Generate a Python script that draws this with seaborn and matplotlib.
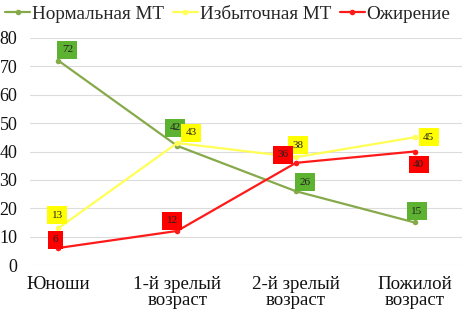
import matplotlib
matplotlib.use("Agg")
import matplotlib.pyplot as plt
import seaborn as sns
import pandas as pd

categories = ["Юноши", "1-й зрелый\nвозраст", "2-й зрелый\nвозраст", "Пожилой\nвозраст"]
series_names = ["Нормальная МТ", "Избыточная МТ", "Ожирение"]
normal = [72, 42, 26, 15]
excess = [13, 43, 38, 45]
obesity = [6, 12, 36, 40]
yticks = [0, 10, 20, 30, 40, 50, 60, 70, 80]

line_colors = ["#86a94a", "#ffff55", "#ff1a1a"]
box_colors = ["#5db232", "#ffff00", "#ff0000"]

# label offsets in pixels (style only)
offsets = {
    0: [(9, 11), (-2, 18), (9, 9), (2, 11)],
    1: [(-1, 13), (14, 10), (2, 12), (14, 0)],
    2: [(-3, 8), (-5, 10), (-13, 8), (4, -13)],
}

sns.set_theme(style="white")
plt.rcParams["font.family"] = "serif"
plt.rcParams["font.serif"] = ["Liberation Serif", "DejaVu Serif"]

df = pd.DataFrame({
    "cat": categories * 3,
    "value": normal + excess + obesity,
    "series": [s for s in series_names for _ in categories],
})

fig = plt.figure(figsize=(4.62, 3.11), dpi=100)
ax = fig.add_axes([30 / 462, 46 / 311, 432 / 462, 227 / 311])

sns.lineplot(data=df, x="cat", y="value", hue="series", palette=line_colors,
             marker="o", markersize=4, markeredgewidth=0, linewidth=1.6,
             sort=False, ax=ax, legend=True)

for si, vals in enumerate([normal, excess, obesity]):
    for ci, v in enumerate(vals):
        dx, dy = offsets[si][ci]
        ax.annotate(str(v), xy=(ci, v), xytext=(dx, dy), textcoords="offset pixels",
                    ha="center", va="center", fontsize=8, color="#222222",
                    bbox=dict(boxstyle="square,pad=0.4", fc=box_colors[si], ec="none"))

ax.set_ylim(0, 80)
ax.set_xlim(-0.24, 3.4)
ax.set_yticks(yticks)
ax.set_xlabel("")
ax.set_ylabel("")
ax.yaxis.grid(True, color="#dcdcdc", linewidth=0.8)
ax.xaxis.grid(False)
for s in ax.spines.values():
    s.set_visible(False)
ax.tick_params(axis="both", length=0, colors="#111111")
ax.tick_params(axis="y", pad=9, labelsize=13)
ax.tick_params(axis="x", pad=8, labelsize=13.6)
for lbl in ax.get_xticklabels():
    lbl.set_linespacing(0.95)

handles, labels = ax.get_legend_handles_labels()
ax.get_legend().remove()
fig.legend(handles, labels, loc="upper left", bbox_to_anchor=(-0.013, 1.02), ncol=3,
           frameon=False, fontsize=13.8, handlelength=1.3, handletextpad=0.1,
           columnspacing=0.45, borderaxespad=0.2)

fig.savefig("out.png", dpi=100)
